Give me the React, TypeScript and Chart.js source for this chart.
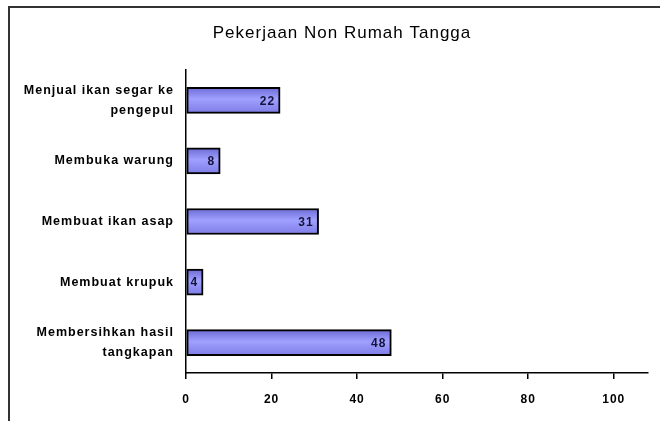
import React, { useEffect, useRef } from "react";
import { Chart, registerables } from "chart.js";

Chart.register(...registerables);

const chartTitle = "Pekerjaan Non Rumah Tangga";
const categories: (string | string[])[] = [
  ["Menjual ikan segar ke", "pengepul"],
  "Membuka warung",
  "Membuat ikan asap",
  "Membuat krupuk",
  ["Membersihkan hasil", "tangkapan"],
];
const values: number[] = [22, 8, 31, 4, 48];
const tickValues: number[] = [0, 20, 40, 60, 80, 100];
const axisMax = 108;

const FONT = "'Liberation Sans', Arial, sans-serif";

const spacingPlugin = {
  id: "spacing",
  beforeDraw(chart: any) {
    try {
      (chart.ctx as any).letterSpacing = "1px";
    } catch (e) {}
  },
};

const titlePlugin = {
  id: "customTitle",
  afterDraw(chart: any) {
    const ctx = chart.ctx;
    ctx.save();
    try {
      (ctx as any).letterSpacing = "1px";
    } catch (e) {}
    ctx.font = `17px ${FONT}`;
    ctx.fillStyle = "#000000";
    ctx.textAlign = "center";
    ctx.textBaseline = "middle";
    ctx.fillText(chartTitle, 342, 33);
    ctx.restore();
  },
};

const valueLabelPlugin = {
  id: "valueLabels",
  afterDatasetsDraw(chart: any) {
    const ctx = chart.ctx;
    const meta = chart.getDatasetMeta(0);
    ctx.save();
    try {
      (ctx as any).letterSpacing = "1px";
    } catch (e) {}
    ctx.font = `bold 12px ${FONT}`;
    ctx.fillStyle = "#14143a";
    ctx.textAlign = "right";
    ctx.textBaseline = "middle";
    meta.data.forEach((bar: any, i: number) => {
      ctx.fillText(String(values[i]), bar.x - 5, bar.y + 1);
    });
    ctx.restore();
  },
};

export default function App() {
  const ref = useRef<HTMLCanvasElement | null>(null);

  useEffect(() => {
    if (!ref.current) return;
    const chart = new Chart(ref.current, {
      type: "bar",
      data: {
        labels: categories,
        datasets: [
          {
            data: values,
            backgroundColor: (c: any) => {
              const ch = c.chart;
              if (!ch.chartArea || c.type !== "data" || !ch.scales.y) return "#9999ff";
              const yc = ch.scales.y.getPixelForValue(c.dataIndex);
              const g = ch.ctx.createLinearGradient(0, yc - 13, 0, yc + 13);
              g.addColorStop(0, "#6a6ad4");
              g.addColorStop(0.45, "#a0a0ff");
              g.addColorStop(1, "#7c7ce6");
              return g;
            },
            borderColor: "#000000",
            borderWidth: 2,
            borderSkipped: false,
            barThickness: 26,
          },
        ],
      },
      options: {
        indexAxis: "y",
        animation: false,
        responsive: false,
        maintainAspectRatio: false,
        layout: { padding: { left: 0, right: 12, top: 70, bottom: 0 } },
        plugins: {
          legend: { display: false },
          tooltip: { enabled: false },
          title: { display: false },
        },
        scales: {
          x: {
            type: "linear",
            min: 0,
            max: axisMax,
            afterBuildTicks: (scale: any) => {
              scale.ticks = tickValues.map((v) => ({ value: v }));
            },
            afterFit: (scale: any) => {
              scale.height = 48;
            },
            grid: {
              drawOnChartArea: false,
              drawTicks: true,
              tickLength: 6,
              color: "#000000",
              lineWidth: 1.5,
            },
            border: { display: true, color: "#000000", width: 1.5 },
            ticks: {
              padding: 13,
              color: "#000000",
              maxRotation: 0,
              autoSkip: false,
              font: { family: FONT, size: 12, weight: "bold" },
            },
          },
          y: {
            type: "category",
            afterFit: (scale: any) => {
              scale.width = 186;
            },
            grid: { display: false, drawTicks: false, tickLength: 0 },
            border: { display: true, color: "#000000", width: 1.5 },
            ticks: {
              padding: 12,
              color: "#000000",
              autoSkip: false,
              font: { family: FONT, size: 12.5, weight: "bold", lineHeight: 1.64 },
            },
          },
        },
      },
      plugins: [spacingPlugin, valueLabelPlugin, titlePlugin],
    } as any);
    return () => chart.destroy();
  }, []);

  return (
    <div
      style={{
        position: "fixed",
        left: 0,
        top: 0,
        width: 660,
        height: 421,
        overflow: "hidden",
        background: "#ffffff",
      }}
    >
      <canvas ref={ref} width={660} height={421} style={{ position: "absolute", left: 0, top: 0, width: 660, height: 421 }} />
      <div
        style={{
          position: "absolute",
          left: 8,
          top: 6,
          width: 800,
          height: 600,
          borderTop: "2px solid #333333",
          borderLeft: "2px solid #333333",
          pointerEvents: "none",
        }}
      />
    </div>
  );
}
